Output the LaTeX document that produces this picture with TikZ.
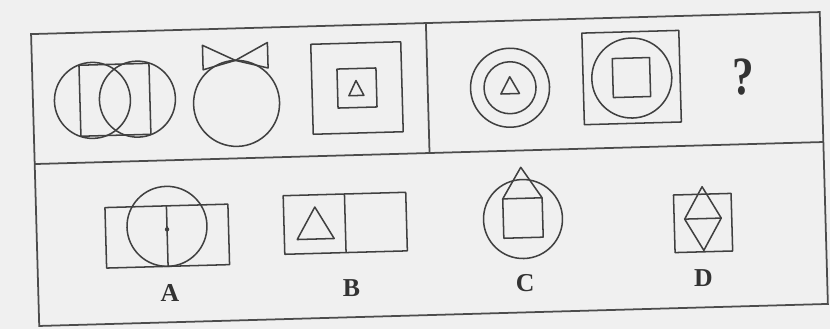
\documentclass[tikz,border=0pt]{standalone}
\usepackage{fontspec}
\setmainfont{Liberation Serif}

\begin{document}
\begin{tikzpicture}[x=0.03cm,y=-0.03cm,
    fig/.style={draw=black!75,line width=1.3pt,line join=round},
    frame/.style={draw=black!70,line width=1.5pt},
    lbl/.style={font=\bfseries\fontsize{22}{22}\selectfont,text=black!80,inner sep=0pt},
    quest/.style={font=\bfseries\fontsize{46}{46}\selectfont,text=black!80,inner sep=0pt,xscale=0.8},
]
\useasboundingbox[fill=black!6] (0,0) rectangle (830,329);

\begin{scope}[rotate around={1.6:(430,170)}]

% Outer frame and dividers
\draw[frame] (35,23) rectangle (824,315);
\draw[frame] (35,153) -- (824,153);
\draw[frame] (430,23) -- (430,153);

% Two circles and a box
\draw[fig] (94.5,91) circle[radius=38];
\draw[fig] (139.5,91) circle[radius=38];
\draw[fig] (82,55.5) rectangle (152,126.5);

% Circle with two ears
\draw[fig] (238.5,98) circle[radius=43];
\draw[fig] (238.5,55) -- (206,39) -- (206,63.5) -- cycle;
\draw[fig] (238.5,55) -- (271,38) -- (271,63.5) -- cycle;

% Square, square, triangle
\draw[fig] (314.3,41) rectangle (404.3,131);
\draw[fig] (339.8,66.5) rectangle (378.8,105.5);
\draw[fig] (351,93.5) -- (366,93.5) -- (358.5,78.5) -- cycle;

% Circle, circle, triangle
\draw[fig] (512.3,90) circle[radius=39.5];
\draw[fig] (512.3,90) circle[radius=26];
\draw[fig] (503,96) -- (521.6,96) -- (512.3,79) -- cycle;

% Square, circle, square
\draw[fig] (585.6,37.4) rectangle (682.6,129);
\draw[fig] (634.3,83.7) circle[radius=40];
\draw[fig] (615.3,63.7) rectangle (652.6,102.7);

\node[quest] (ask) at (745.6,85.8) {?};

% Option A
\draw[fig] (104,198.5) rectangle (227,259);
\draw[fig] (165.5,219) circle[radius=40];
\draw[fig] (165.5,198.5) -- (165.5,259);
\fill[black!75] (165.5,222) circle[radius=2.2];
\node[lbl] (labA) at (166.5,286) {A};

% Option B
\draw[fig] (282.5,191.6) rectangle (405.1,250.2);
\draw[fig] (343.8,191.6) -- (343.8,250.2);
\draw[fig] (295.3,235.8) -- (332.3,235.8) -- (313.8,203.8) -- cycle;
\node[lbl] (labB) at (348.3,286) {B};

% Option C
\draw[fig] (521.6,221.6) circle[radius=39.5];
\draw[fig] (501.9,200.9) rectangle (541.3,240.3);
\draw[fig] (501.9,200.9) -- (520.8,169.8) -- (541.3,200.9);
\node[lbl] (labC) at (521.9,286) {C};

% Option D
\draw[fig] (672.7,201.8) rectangle (730.3,259.4);
\draw[fig] (701.5,194.3) -- (719.8,226.2) -- (701.5,258) -- (683.2,226.2) -- cycle;
\draw[fig] (683.2,226.2) -- (719.8,226.2);
\node[lbl] (labD) at (700.3,286) {D};

\end{scope}
\end{tikzpicture}
\end{document}
